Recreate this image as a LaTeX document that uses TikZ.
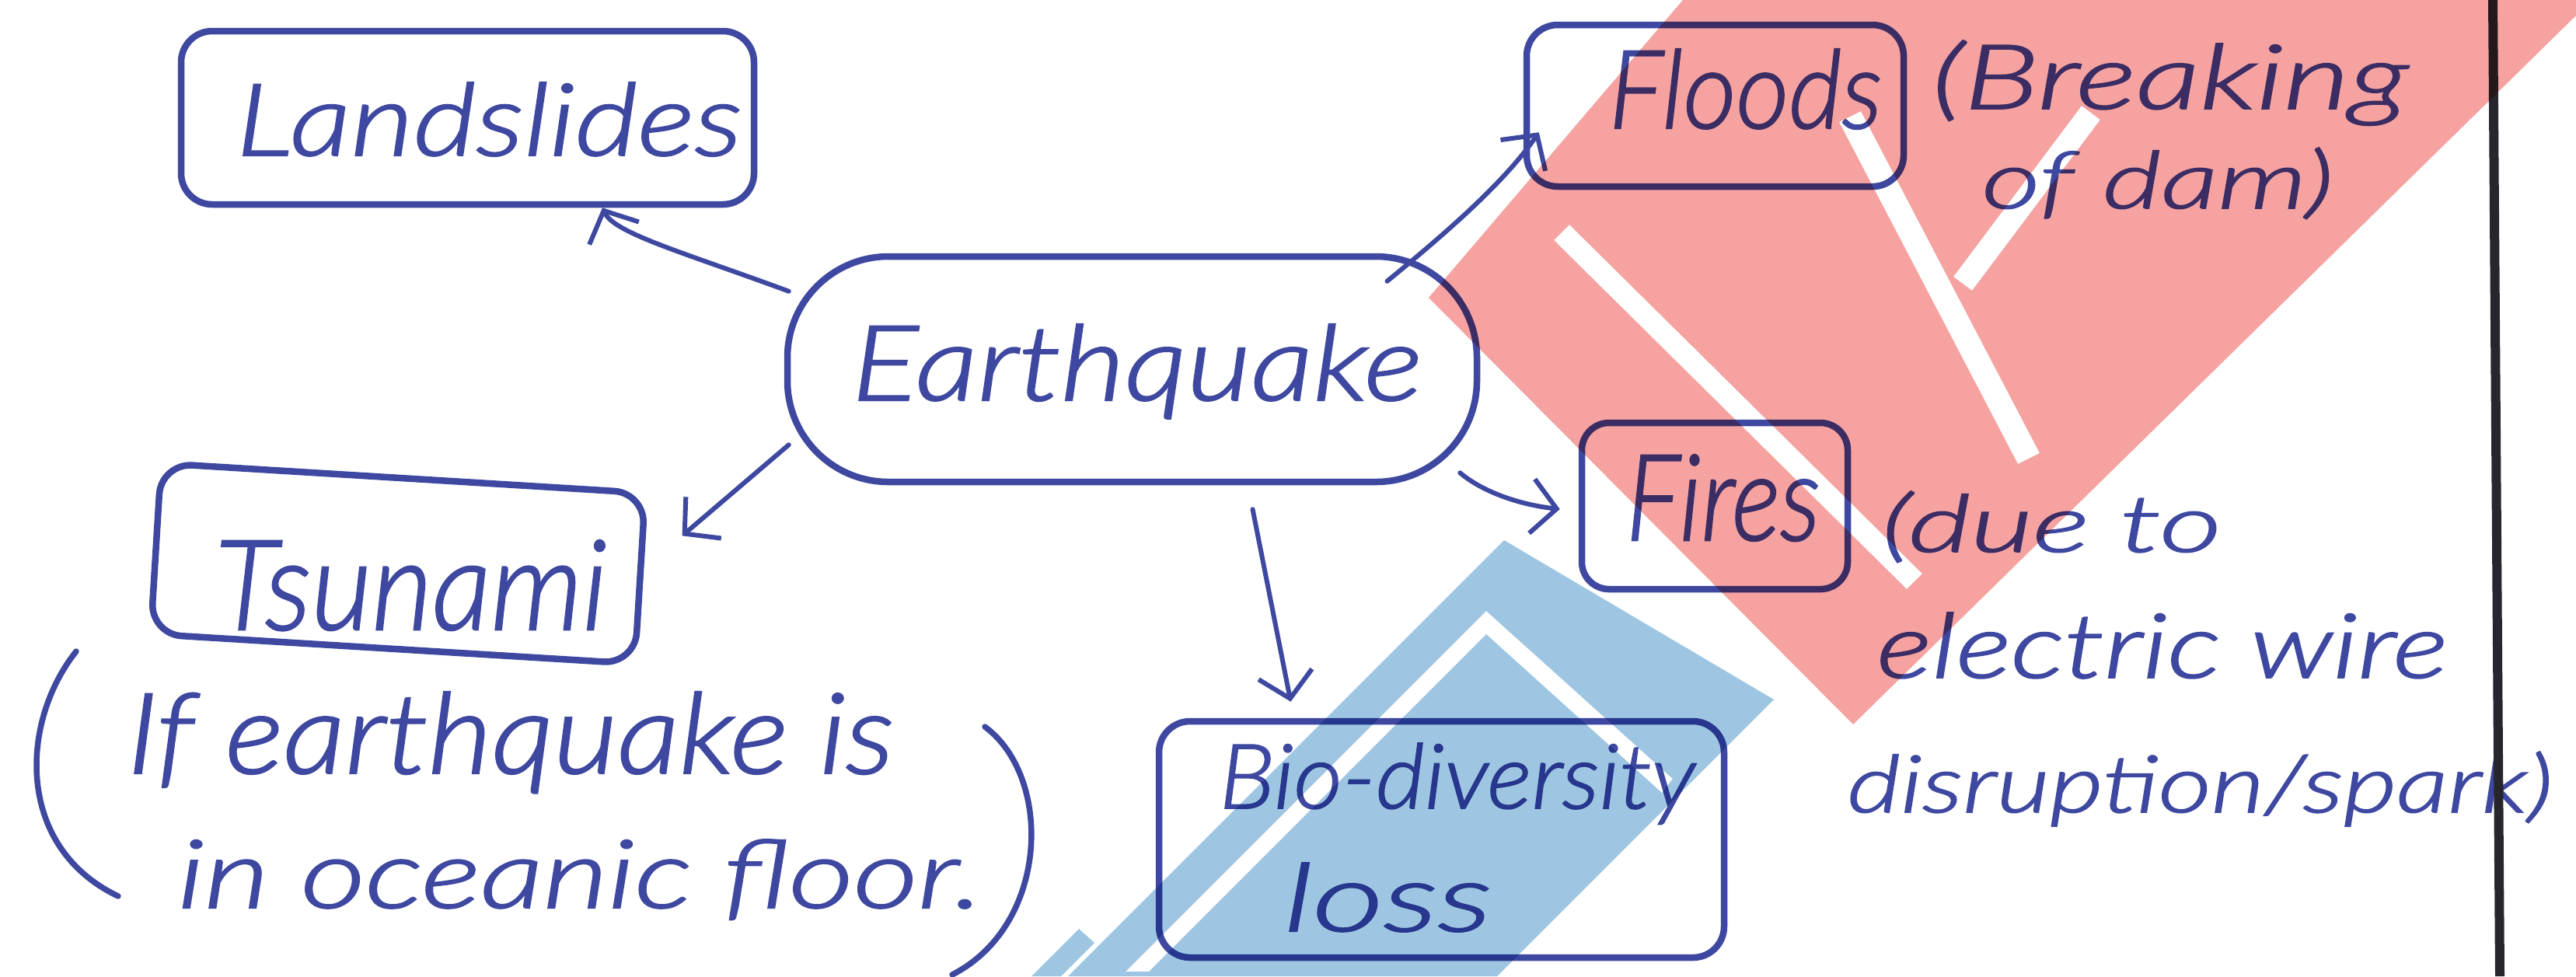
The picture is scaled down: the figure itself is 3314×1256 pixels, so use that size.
\documentclass[tikz,border=0pt]{standalone}
\usepackage{fontspec}
\setmainfont{Lato}[UprightFont={* Light}, ItalicFont={* Light Italic}, ItalicFeatures={FakeBold=1.6}]
\usetikzlibrary{arrows.meta}

\definecolor{ink}{RGB}{62,72,160}
\definecolor{markred}{RGB}{246,162,160}
\definecolor{markblue}{RGB}{158,198,226}
\definecolor{rulecol}{RGB}{38,38,44}

% handwritten-style label fitted to a given width and height
\newcommand\hand[3]{\resizebox{#1}{#2}{\itshape #3}}

\begin{document}
\begin{tikzpicture}[x=0.1mm, y=-0.1mm,
  box/.style={draw=ink, line width=0.85mm, inner sep=0pt, rounded corners=4mm},
  words/.style={inner sep=0pt, text=ink},
  link/.style={draw=ink, line width=0.6mm, line cap=round,
    -{Straight Barb[length=3.2mm, width=7mm, line width=0.6mm]}},
  stroke/.style={draw=ink, line width=0.75mm, line cap=round},
]
\useasboundingbox (0,0) rectangle (3314,1256);
\fill[white] (0,0) rectangle (3314,1256);

% ---------- boxes ----------
\node[box, minimum width=73.7mm, minimum height=22.3mm] (land) at (601.5,151.5) {};
\node[box, minimum width=88.7mm, minimum height=29mm, rounded corners=13mm] (eq) at (1456.5,475) {};
\node[box, minimum width=48.5mm, minimum height=20.8mm] (flood) at (2206.5,136) {};
\node[box, minimum width=62.4mm, minimum height=22mm, rotate=-3.5] (tsu) at (512,725) {};
\node[box, minimum width=34.2mm, minimum height=21.4mm, rounded corners=3.5mm] (fire) at (2206,651) {};
\node[box, minimum width=72.7mm, minimum height=30.4mm] (bio) at (1854.5,1080) {};

% ---------- labels ----------
\node[words, anchor=base west] (landT) at (303,200) {\hand{65.1mm}{9.4mm}{Landslides}};
\node[words, anchor=base west] (eqT) at (1095,515) {\hand{73.4mm}{9.8mm}{Earthquake}};
\node[words, anchor=base west] (floodT) at (2069,165) {\hand{35.2mm}{10.2mm}{Floods}};
\node[words, anchor=base west] (floodN1) at (2485,140) {\hand{61.2mm}{8.8mm}{(Breaking}};
\node[words, anchor=base west] (floodN2) at (2549,268) {\hand{45.2mm}{7.8mm}{of dam)}};
\node[words, anchor=base west] (tsuT) at (276,810) {\hand{50.4mm}{11.5mm}{Tsunami}};
\node[words, anchor=base west] (tsuN1) at (163,995) {\hand{98.6mm}{10.5mm}{If earthquake is}};
\node[words, anchor=base west] (tsuN2) at (228,1168) {\hand{103.5mm}{8.8mm}{in oceanic floor.}};
\node[words, anchor=base west] (fireT) at (2091,695) {\hand{25mm}{11mm}{Fires}};
\node[words, anchor=base west] (fireN1) at (2420,710) {\hand{43.7mm}{7.8mm}{(due to}};
\node[words, anchor=base west] (fireN2) at (2414,872) {\hand{73.4mm}{8.4mm}{electric wire}};
\node[words, anchor=base west] (fireN3) at (2376,1045) {\hand{90.7mm}{7.8mm}{disruption/spark)}};
\node[words, anchor=base west] (bioT1) at (1568,1040) {\hand{61.2mm}{8.4mm}{Bio-diversity}};
\node[words, anchor=base west] (bioT2) at (1651,1198) {\hand{26.8mm}{8.8mm}{loss}};

% tall brackets around the two-line note under Tsunami
\draw[stroke] (98,838) .. controls (25,930) and (20,1090) .. (152,1153);
\draw[stroke] (1267,935) .. controls (1355,1000) and (1350,1190) .. (1225,1254);

% ---------- connectors ----------
\draw[link] ([shift={(6,49)}]eq.north west) .. controls (880,325) and (790,300) .. ([xshift=17.35mm]land.south);
\draw[link] ([shift={(328,36)}]eq.north) .. controls (1860,300) and (1935,235) .. ([shift={(20,-74)}]flood.south west);
\draw[link] ([shift={(6,-52)}]eq.south west) -- ([shift={(43,59)}]tsu.north east);
\draw[link] ([shift={(-26,-16)}]eq.south east) .. controls (1910,635) and (1960,650) .. ([shift={(-24,4)}]fire.west);
\draw[link] ([shift={(155,31)}]eq.south) -- ([shift={(-194,-21)}]bio.north);

% page margin rule
\draw[rulecol, line width=1.2mm] (3207,0) -- (3216,1256);

% ---------- stamp printed over the page ----------
\begin{scope}[blend mode=multiply]
  \fill[markred, even odd rule]
    (2165,0) -- (1838,383) -- (2384,932) -- (3314,20) -- (3314,0) -- cycle
    (2019,289) -- (2473,738) -- (2453,758) -- (1999,309) -- cycle
    (2394,143) -- (2624,583) -- (2596,597) -- (2366,157) -- cycle
    (2537,374) -- (2702,154) -- (2678,136) -- (2513,356) -- cycle;
  \fill[markblue, even odd rule]
    (1935,695) -- (2282,900) -- (1926,1256) -- (1374,1256) -- cycle
    (1448,1250) -- (1912,786) -- (2152,1002) -- (2138,1020) -- (1912,816) -- (1478,1250) -- cycle;
  \fill[markblue] (1388,1195) -- (1408,1213) -- (1365,1256) -- (1327,1256) -- cycle;
\end{scope}
\end{tikzpicture}
\end{document}
